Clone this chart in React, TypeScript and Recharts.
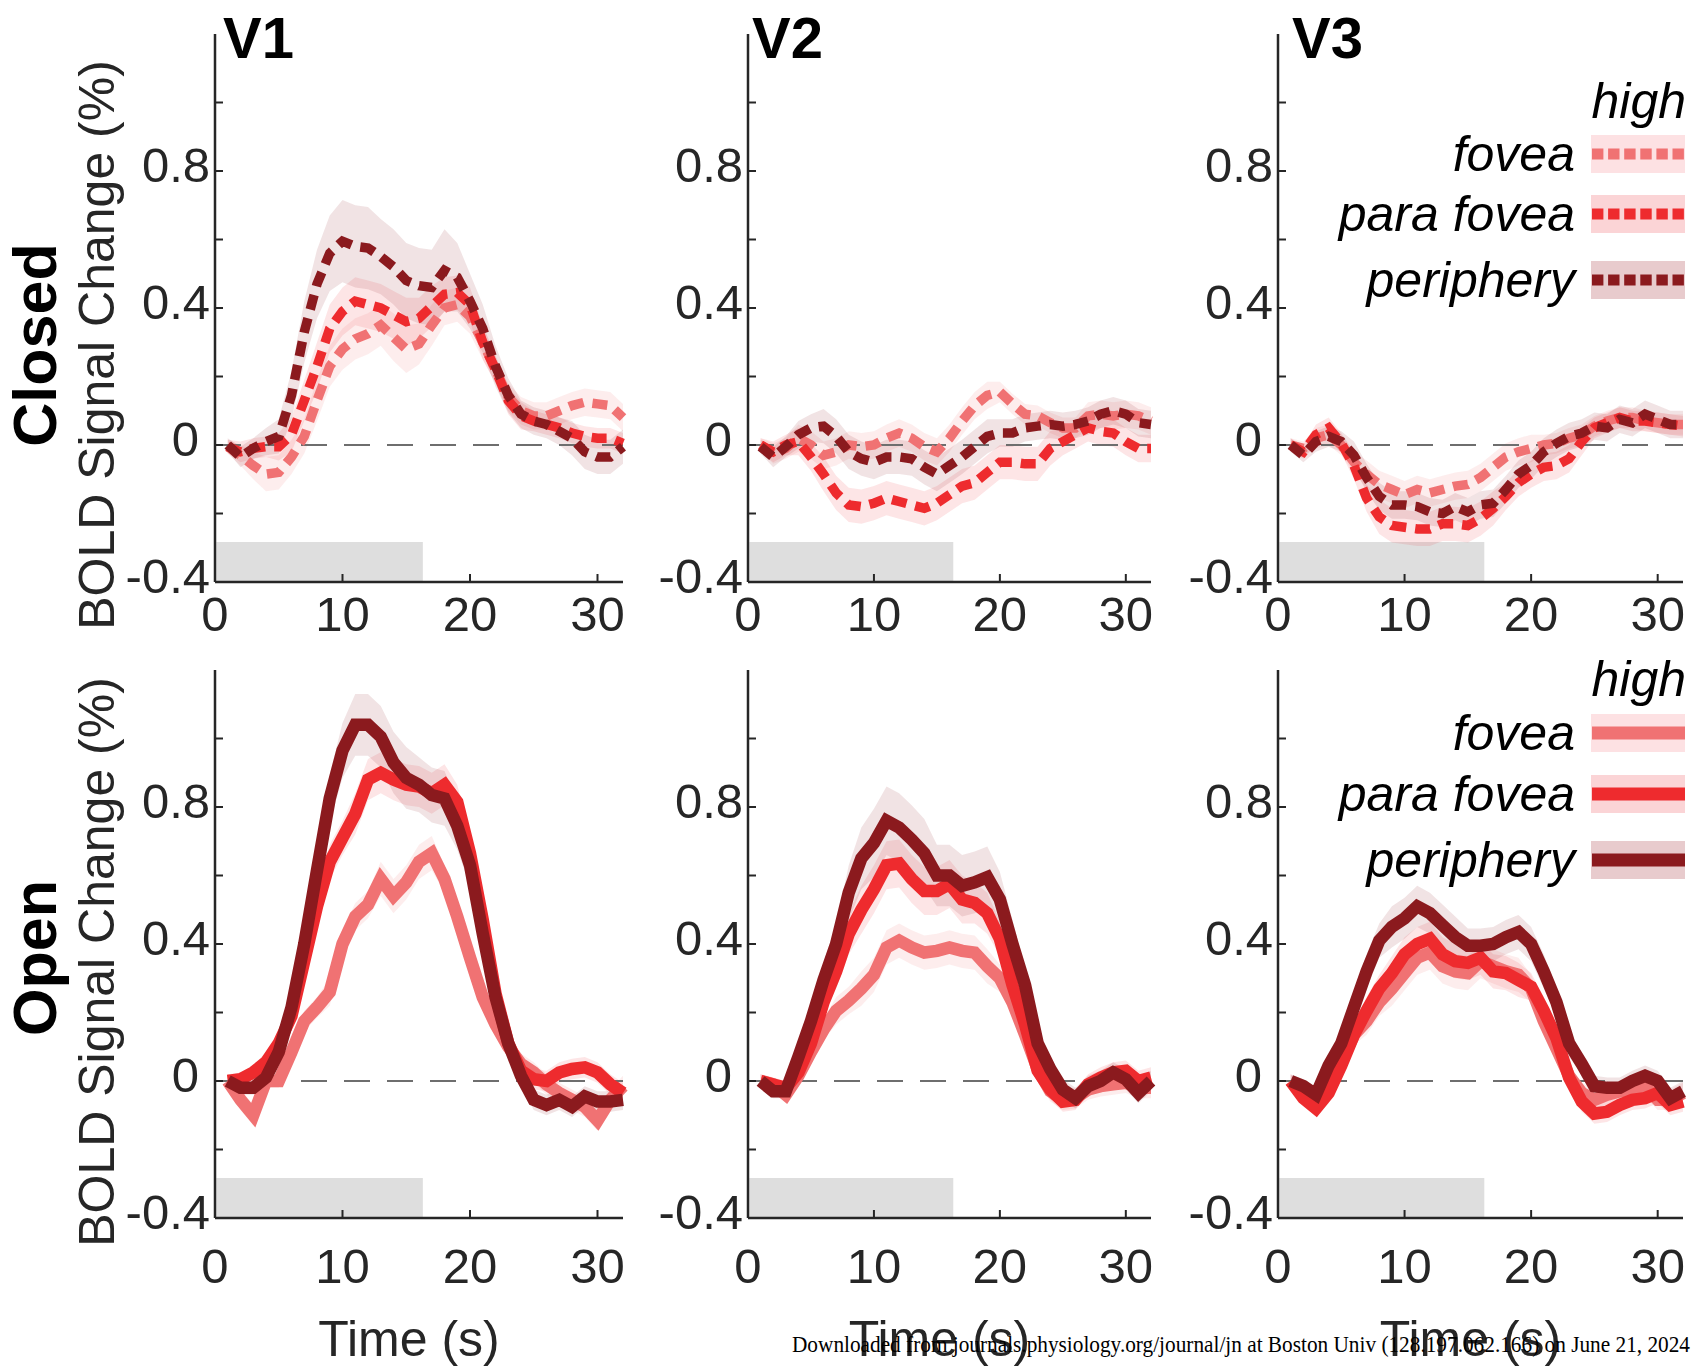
import React from 'react'
import { ComposedChart, Area, Line, XAxis, YAxis, ReferenceArea, ReferenceLine } from 'recharts'

// sample times (s)
const TIME = [1, 2, 3, 4, 5, 6, 7, 8, 9, 10, 11, 12, 13, 14, 15, 16, 17, 18, 19, 20, 21, 22, 23, 24, 25, 26, 27, 28, 29, 30, 31, 32]

const X_TICKS = [0, 10, 20, 30]
const Y_TICKS = [-0.4, -0.2, 0, 0.2, 0.4, 0.6, 0.8, 1.0]
const Y_TICK_LABELS = ['-0.4', '', '0', '', '0.4', '', '0.8', '']

// stimulus block (grey bar)
const STIM_ON = 0.1
const STIM_OFF = 16.3
const STIM_BAR_TOP = -0.283

const REGIONS = ['V1', 'V2', 'V3']
const LEGEND_LABELS = ['fovea', 'para fovea', 'periphery']

// ---- eyes closed ----
const V1C_FOVEA = [-0.005, -0.03, -0.06, -0.085, -0.08, -0.035, 0.025, 0.13, 0.23, 0.28, 0.31, 0.325, 0.35, 0.315, 0.28, 0.295, 0.35, 0.4, 0.41, 0.375, 0.3, 0.22, 0.14, 0.1, 0.085, 0.085, 0.1, 0.115, 0.125, 0.12, 0.115, 0.08]
const V1C_PARA = [-0.005, -0.02, -0.01, -0.005, -0.005, 0.03, 0.13, 0.23, 0.34, 0.39, 0.42, 0.41, 0.4, 0.38, 0.36, 0.37, 0.405, 0.44, 0.445, 0.41, 0.3, 0.22, 0.13, 0.085, 0.07, 0.06, 0.05, 0.035, 0.025, 0.02, 0.02, 0.005]
const V1C_PERIPH = [0, -0.035, -0.01, 0.01, 0.025, 0.145, 0.33, 0.47, 0.56, 0.595, 0.58, 0.575, 0.55, 0.52, 0.48, 0.465, 0.46, 0.51, 0.49, 0.42, 0.34, 0.23, 0.145, 0.09, 0.07, 0.06, 0.04, 0.02, -0.02, -0.035, -0.035, -0.005]
const V1C_FOVEA_SEM = [0.02, 0.03, 0.04, 0.05, 0.05, 0.05, 0.05, 0.06, 0.06, 0.06, 0.06, 0.06, 0.06, 0.07, 0.07, 0.06, 0.06, 0.05, 0.05, 0.05, 0.05, 0.04, 0.04, 0.04, 0.04, 0.04, 0.04, 0.04, 0.04, 0.04, 0.04, 0.04]
const V1C_PARA_SEM = [0.02, 0.03, 0.03, 0.03, 0.04, 0.05, 0.06, 0.07, 0.07, 0.07, 0.07, 0.07, 0.07, 0.07, 0.07, 0.06, 0.06, 0.05, 0.05, 0.05, 0.05, 0.04, 0.04, 0.04, 0.03, 0.03, 0.03, 0.03, 0.03, 0.03, 0.03, 0.03]
const V1C_PERIPH_SEM = [0.02, 0.03, 0.03, 0.04, 0.05, 0.07, 0.09, 0.1, 0.11, 0.12, 0.12, 0.12, 0.11, 0.11, 0.11, 0.11, 0.11, 0.12, 0.1, 0.08, 0.07, 0.06, 0.05, 0.04, 0.04, 0.04, 0.04, 0.05, 0.05, 0.05, 0.05, 0.05]

const V2C_FOVEA = [0, -0.025, -0.01, 0.02, 0, -0.03, -0.02, 0, -0.005, 0, 0.02, 0.035, 0.02, -0.005, -0.02, 0.02, 0.07, 0.115, 0.145, 0.155, 0.12, 0.09, 0.085, 0.065, 0.05, 0.05, 0.085, 0.09, 0.085, 0.09, 0.085, 0.07]
const V2C_PARA = [0, -0.02, 0, 0.01, -0.035, -0.085, -0.14, -0.175, -0.18, -0.17, -0.155, -0.165, -0.175, -0.185, -0.17, -0.145, -0.12, -0.11, -0.08, -0.05, -0.05, -0.055, -0.055, -0.01, 0.01, 0.03, 0.05, 0.04, 0.035, 0.01, -0.01, -0.01]
const V2C_PERIPH = [-0.005, -0.035, -0.005, 0.03, 0.05, 0.055, 0.025, -0.02, -0.04, -0.05, -0.035, -0.035, -0.04, -0.065, -0.085, -0.06, -0.035, -0.005, 0.025, 0.035, 0.035, 0.05, 0.055, 0.06, 0.055, 0.06, 0.07, 0.09, 0.1, 0.09, 0.065, 0.06]
const V2C_FOVEA_SEM = [0.02, 0.03, 0.03, 0.04, 0.04, 0.04, 0.04, 0.04, 0.04, 0.04, 0.04, 0.04, 0.04, 0.04, 0.04, 0.04, 0.04, 0.04, 0.04, 0.03, 0.03, 0.03, 0.03, 0.03, 0.03, 0.03, 0.04, 0.04, 0.04, 0.04, 0.04, 0.04]
const V2C_PARA_SEM = [0.02, 0.03, 0.03, 0.04, 0.04, 0.05, 0.05, 0.05, 0.05, 0.05, 0.05, 0.05, 0.05, 0.05, 0.05, 0.05, 0.05, 0.05, 0.05, 0.05, 0.05, 0.05, 0.05, 0.05, 0.04, 0.04, 0.04, 0.04, 0.04, 0.04, 0.04, 0.04]
const V2C_PERIPH_SEM = [0.02, 0.03, 0.03, 0.04, 0.04, 0.05, 0.05, 0.05, 0.05, 0.05, 0.05, 0.05, 0.05, 0.05, 0.05, 0.05, 0.05, 0.05, 0.05, 0.04, 0.04, 0.04, 0.04, 0.04, 0.04, 0.04, 0.04, 0.04, 0.04, 0.04, 0.04, 0.04]

const V3C_FOVEA = [0, -0.01, 0.02, 0.03, 0, -0.05, -0.085, -0.115, -0.13, -0.145, -0.13, -0.14, -0.13, -0.12, -0.115, -0.095, -0.065, -0.035, -0.02, -0.01, 0, 0.005, 0.02, 0.03, 0.055, 0.07, 0.08, 0.08, 0.07, 0.065, 0.06, 0.06]
const V3C_PARA = [0, -0.02, 0.03, 0.05, 0.005, -0.06, -0.155, -0.21, -0.235, -0.24, -0.245, -0.245, -0.23, -0.23, -0.235, -0.215, -0.185, -0.15, -0.11, -0.085, -0.065, -0.06, -0.04, 0.01, 0.05, 0.065, 0.08, 0.07, 0.07, 0.065, 0.06, 0.055]
const V3C_PERIPH = [0, -0.03, 0.01, 0.025, 0.01, -0.03, -0.095, -0.15, -0.175, -0.175, -0.18, -0.195, -0.2, -0.18, -0.195, -0.175, -0.17, -0.13, -0.085, -0.06, -0.02, 0.005, 0.025, 0.035, 0.055, 0.05, 0.075, 0.065, 0.09, 0.075, 0.06, 0.06]
const V3C_FOVEA_SEM = [0.02, 0.02, 0.03, 0.03, 0.03, 0.03, 0.04, 0.04, 0.04, 0.04, 0.04, 0.04, 0.04, 0.04, 0.04, 0.04, 0.04, 0.04, 0.04, 0.04, 0.03, 0.03, 0.03, 0.03, 0.03, 0.03, 0.03, 0.03, 0.03, 0.03, 0.03, 0.03]
const V3C_PARA_SEM = [0.02, 0.02, 0.03, 0.03, 0.03, 0.04, 0.04, 0.05, 0.05, 0.05, 0.05, 0.05, 0.05, 0.05, 0.05, 0.05, 0.05, 0.04, 0.04, 0.04, 0.04, 0.04, 0.04, 0.04, 0.03, 0.03, 0.03, 0.03, 0.03, 0.03, 0.03, 0.03]
const V3C_PERIPH_SEM = [0.02, 0.02, 0.03, 0.03, 0.03, 0.04, 0.04, 0.04, 0.04, 0.04, 0.04, 0.04, 0.04, 0.04, 0.04, 0.04, 0.04, 0.04, 0.04, 0.04, 0.04, 0.04, 0.04, 0.04, 0.04, 0.04, 0.04, 0.04, 0.04, 0.04, 0.04, 0.04]

// ---- eyes open ----
const V1O_FOVEA = [0, -0.055, -0.1, 0, 0, 0.085, 0.175, 0.215, 0.26, 0.4, 0.48, 0.515, 0.59, 0.54, 0.58, 0.64, 0.665, 0.59, 0.48, 0.36, 0.245, 0.165, 0.1, 0.05, 0.025, -0.01, -0.035, -0.055, -0.075, -0.115, -0.055, -0.015]
const V1O_PARA = [0, 0.005, 0.025, 0.055, 0.11, 0.19, 0.35, 0.51, 0.64, 0.71, 0.78, 0.88, 0.9, 0.88, 0.865, 0.86, 0.84, 0.865, 0.815, 0.665, 0.47, 0.255, 0.11, 0.03, 0.005, 0, 0.025, 0.035, 0.04, 0.025, -0.01, -0.035]
const V1O_PERIPH = [0, -0.02, -0.02, 0.01, 0.085, 0.215, 0.4, 0.615, 0.825, 0.965, 1.04, 1.04, 1.005, 0.93, 0.885, 0.865, 0.835, 0.825, 0.745, 0.63, 0.43, 0.245, 0.11, 0.015, -0.055, -0.07, -0.055, -0.075, -0.045, -0.06, -0.06, -0.055]
const V1O_FOVEA_SEM = [0.02, 0.03, 0.03, 0.02, 0.02, 0.03, 0.03, 0.03, 0.04, 0.04, 0.04, 0.04, 0.05, 0.05, 0.05, 0.05, 0.05, 0.04, 0.04, 0.04, 0.04, 0.03, 0.03, 0.03, 0.03, 0.03, 0.03, 0.03, 0.03, 0.03, 0.03, 0.03]
const V1O_PARA_SEM = [0.02, 0.02, 0.02, 0.03, 0.03, 0.04, 0.04, 0.05, 0.05, 0.05, 0.06, 0.06, 0.06, 0.06, 0.06, 0.06, 0.06, 0.06, 0.05, 0.05, 0.04, 0.04, 0.03, 0.03, 0.03, 0.03, 0.03, 0.03, 0.03, 0.03, 0.03, 0.03]
const V1O_PERIPH_SEM = [0.02, 0.02, 0.02, 0.03, 0.03, 0.04, 0.05, 0.06, 0.07, 0.08, 0.09, 0.09, 0.09, 0.09, 0.09, 0.08, 0.08, 0.08, 0.07, 0.06, 0.05, 0.04, 0.03, 0.03, 0.03, 0.03, 0.03, 0.03, 0.03, 0.03, 0.03, 0.03]

const V2O_FOVEA = [0, -0.01, -0.04, 0.015, 0.085, 0.15, 0.205, 0.235, 0.27, 0.31, 0.39, 0.41, 0.39, 0.375, 0.38, 0.39, 0.38, 0.375, 0.335, 0.3, 0.23, 0.135, 0.035, -0.03, -0.055, -0.05, -0.025, -0.015, -0.01, -0.005, -0.02, -0.02]
const V2O_PARA = [0, -0.01, -0.02, 0.025, 0.11, 0.23, 0.32, 0.43, 0.5, 0.56, 0.63, 0.635, 0.59, 0.555, 0.555, 0.575, 0.53, 0.52, 0.49, 0.415, 0.28, 0.165, 0.03, -0.025, -0.06, -0.055, -0.01, 0.01, 0.025, 0.03, 0, 0.01]
const V2O_PERIPH = [0, -0.03, -0.03, 0.07, 0.175, 0.295, 0.4, 0.55, 0.65, 0.695, 0.76, 0.74, 0.705, 0.665, 0.6, 0.6, 0.57, 0.58, 0.595, 0.53, 0.4, 0.28, 0.11, 0.035, -0.025, -0.05, -0.015, 0, 0.025, 0.005, -0.035, 0]
const V2O_FOVEA_SEM = [0.02, 0.02, 0.02, 0.02, 0.03, 0.03, 0.04, 0.04, 0.05, 0.05, 0.05, 0.05, 0.05, 0.05, 0.05, 0.05, 0.05, 0.05, 0.05, 0.04, 0.04, 0.03, 0.03, 0.03, 0.03, 0.03, 0.03, 0.03, 0.03, 0.03, 0.03, 0.03]
const V2O_PARA_SEM = [0.02, 0.02, 0.02, 0.03, 0.03, 0.04, 0.05, 0.06, 0.07, 0.07, 0.07, 0.07, 0.07, 0.07, 0.07, 0.07, 0.07, 0.06, 0.06, 0.05, 0.04, 0.04, 0.03, 0.03, 0.03, 0.03, 0.03, 0.03, 0.03, 0.03, 0.03, 0.03]
const V2O_PERIPH_SEM = [0.02, 0.02, 0.02, 0.03, 0.04, 0.05, 0.06, 0.08, 0.09, 0.1, 0.1, 0.1, 0.1, 0.1, 0.09, 0.09, 0.09, 0.09, 0.09, 0.08, 0.07, 0.05, 0.04, 0.03, 0.03, 0.03, 0.03, 0.03, 0.03, 0.03, 0.03, 0.03]

const V3O_FOVEA = [0, -0.04, -0.06, -0.02, 0.055, 0.135, 0.175, 0.23, 0.27, 0.315, 0.36, 0.375, 0.335, 0.32, 0.315, 0.35, 0.335, 0.32, 0.31, 0.27, 0.175, 0.095, 0.015, -0.035, -0.055, -0.04, -0.03, -0.025, -0.015, -0.055, -0.055, -0.035]
const V3O_PARA = [0, -0.05, -0.08, -0.035, 0.045, 0.135, 0.205, 0.27, 0.315, 0.37, 0.4, 0.415, 0.37, 0.35, 0.345, 0.36, 0.32, 0.315, 0.295, 0.275, 0.205, 0.125, 0.01, -0.06, -0.095, -0.09, -0.07, -0.055, -0.05, -0.035, -0.07, -0.06]
const V3O_PERIPH = [0, -0.015, -0.04, 0.045, 0.11, 0.215, 0.32, 0.41, 0.45, 0.475, 0.51, 0.49, 0.455, 0.42, 0.395, 0.395, 0.4, 0.42, 0.435, 0.4, 0.32, 0.23, 0.11, 0.05, -0.015, -0.02, -0.02, 0, 0.015, 0, -0.05, -0.03]
const V3O_FOVEA_SEM = [0.02, 0.02, 0.02, 0.03, 0.03, 0.03, 0.04, 0.04, 0.05, 0.05, 0.05, 0.05, 0.05, 0.05, 0.05, 0.05, 0.05, 0.05, 0.05, 0.04, 0.04, 0.03, 0.03, 0.03, 0.03, 0.03, 0.03, 0.03, 0.03, 0.03, 0.03, 0.03]
const V3O_PARA_SEM = [0.02, 0.02, 0.02, 0.03, 0.03, 0.03, 0.04, 0.04, 0.05, 0.05, 0.05, 0.05, 0.05, 0.05, 0.05, 0.05, 0.05, 0.05, 0.05, 0.04, 0.04, 0.03, 0.03, 0.03, 0.03, 0.03, 0.03, 0.03, 0.03, 0.03, 0.03, 0.03]
const V3O_PERIPH_SEM = [0.02, 0.02, 0.02, 0.03, 0.03, 0.04, 0.05, 0.05, 0.06, 0.06, 0.06, 0.06, 0.06, 0.06, 0.05, 0.05, 0.05, 0.05, 0.05, 0.05, 0.05, 0.04, 0.04, 0.03, 0.03, 0.03, 0.03, 0.03, 0.03, 0.03, 0.03, 0.03]

const COLORS = { fovea: '#F07273', para: '#EE2B2E', periph: '#8B1A1E' }
const LEGEND_FILLS = ['#FDE1E3', '#FBD4D6', '#E8CBCD']
const LINE_COLORS = [COLORS.fovea, COLORS.para, COLORS.periph]
const INK = '#262626'
const FONT = "'Liberation Sans', Arial, Helvetica, sans-serif"

const PLOT_H = 548
const Y_AXIS_W = 120
const M_TOP = 10
const M_RIGHT = 12

type Trio = { fovea: number[]; para: number[]; periph: number[]; foveaSem: number[]; paraSem: number[]; periphSem: number[] }

const PANELS: { left: number; top: number; width: number; dashed: boolean; series: Trio }[] = [
  { left: 215, top: 34, width: 408, dashed: true, series: { fovea: V1C_FOVEA, para: V1C_PARA, periph: V1C_PERIPH, foveaSem: V1C_FOVEA_SEM, paraSem: V1C_PARA_SEM, periphSem: V1C_PERIPH_SEM } },
  { left: 748, top: 34, width: 403, dashed: true, series: { fovea: V2C_FOVEA, para: V2C_PARA, periph: V2C_PERIPH, foveaSem: V2C_FOVEA_SEM, paraSem: V2C_PARA_SEM, periphSem: V2C_PERIPH_SEM } },
  { left: 1278, top: 34, width: 405, dashed: true, series: { fovea: V3C_FOVEA, para: V3C_PARA, periph: V3C_PERIPH, foveaSem: V3C_FOVEA_SEM, paraSem: V3C_PARA_SEM, periphSem: V3C_PERIPH_SEM } },
  { left: 215, top: 670, width: 408, dashed: false, series: { fovea: V1O_FOVEA, para: V1O_PARA, periph: V1O_PERIPH, foveaSem: V1O_FOVEA_SEM, paraSem: V1O_PARA_SEM, periphSem: V1O_PERIPH_SEM } },
  { left: 748, top: 670, width: 403, dashed: false, series: { fovea: V2O_FOVEA, para: V2O_PARA, periph: V2O_PERIPH, foveaSem: V2O_FOVEA_SEM, paraSem: V2O_PARA_SEM, periphSem: V2O_PERIPH_SEM } },
  { left: 1278, top: 670, width: 405, dashed: false, series: { fovea: V3O_FOVEA, para: V3O_PARA, periph: V3O_PERIPH, foveaSem: V3O_FOVEA_SEM, paraSem: V3O_PARA_SEM, periphSem: V3O_PERIPH_SEM } },
]

function buildRows(s: Trio) {
  return TIME.map((t, i) => ({
    t,
    fovea: s.fovea[i],
    para: s.para[i],
    periph: s.periph[i],
    foveaBand: [s.fovea[i] - s.foveaSem[i], s.fovea[i] + s.foveaSem[i]],
    paraBand: [s.para[i] - s.paraSem[i], s.para[i] + s.paraSem[i]],
    periphBand: [s.periph[i] - s.periphSem[i], s.periph[i] + s.periphSem[i]],
  }))
}

function YTick(props: any) {
  const { x, y, payload } = props
  const label = Y_TICK_LABELS[Y_TICKS.indexOf(payload.value)]
  if (!label) return <g />
  const nudge = label === '0' ? 11 : 0
  return (
    <text x={x - nudge} y={y - 6} dy="0.355em" textAnchor="end" fontSize={49} fill={INK} fontFamily={FONT}>
      {label}
    </text>
  )
}

function Panel({ p }: { p: (typeof PANELS)[number] }) {
  const rows = buildRows(p.series)
  const bottomRow = !p.dashed
  const xH = bottomRow ? 170 : 70
  const w = Y_AXIS_W + p.width + M_RIGHT
  const h = M_TOP + PLOT_H + xH
  const lineW = p.dashed ? 9.5 : 12.5
  const dash = p.dashed ? '15 9' : undefined

  return (
    <div style={{ position: 'absolute', left: p.left - Y_AXIS_W, top: p.top - M_TOP }}>
      <ComposedChart width={w} height={h} data={rows} margin={{ top: M_TOP, right: M_RIGHT, left: 0, bottom: 0 }}>
        <XAxis
          type="number"
          dataKey="t"
          domain={[0, 32]}
          ticks={X_TICKS}
          interval={0}
          height={xH}
          axisLine={{ stroke: INK, strokeWidth: 2.5 }}
          tickLine={{ stroke: INK, strokeWidth: 2 }}
          tickSize={-8}
          tickMargin={bottomRow ? 38 : 22}
          tick={{ fontSize: 49, fill: INK }}
          label={
            bottomRow
              ? { value: 'Time (s)', position: 'insideBottom', offset: 32, dx: -10, fontSize: 50, fill: INK }
              : undefined
          }
        />
        <YAxis
          type="number"
          domain={[-0.4, 1.2]}
          ticks={Y_TICKS}
          interval={0}
          width={Y_AXIS_W}
          axisLine={{ stroke: INK, strokeWidth: 2.5 }}
          tickLine={{ stroke: INK, strokeWidth: 2 }}
          tickSize={-8}
          tickMargin={13}
          tick={<YTick />}
        />
        <ReferenceArea x1={STIM_ON} x2={STIM_OFF} y1={-0.4} y2={STIM_BAR_TOP} fill="#DEDEDE" fillOpacity={1} stroke="none" />
        <Area type="linear" dataKey="foveaBand" stroke="none" fill={COLORS.fovea} fillOpacity={0.13} dot={false} activeDot={false} isAnimationActive={false} />
        <Area type="linear" dataKey="paraBand" stroke="none" fill={COLORS.para} fillOpacity={0.12} dot={false} activeDot={false} isAnimationActive={false} />
        <Area type="linear" dataKey="periphBand" stroke="none" fill={COLORS.periph} fillOpacity={0.12} dot={false} activeDot={false} isAnimationActive={false} />
        <ReferenceLine y={0} stroke="#6E6E6E" strokeWidth={2} strokeDasharray="26 17" />
        <Line type="linear" dataKey="fovea" stroke={COLORS.fovea} strokeWidth={lineW} strokeDasharray={dash} dot={false} activeDot={false} isAnimationActive={false} />
        <Line type="linear" dataKey="para" stroke={COLORS.para} strokeWidth={lineW} strokeDasharray={dash} dot={false} activeDot={false} isAnimationActive={false} />
        <Line type="linear" dataKey="periph" stroke={COLORS.periph} strokeWidth={lineW} strokeDasharray={dash} dot={false} activeDot={false} isAnimationActive={false} />
      </ComposedChart>
    </div>
  )
}

function LegendBlock({ highY, rowYs, dashed }: { highY: number; rowYs: number[]; dashed: boolean }) {
  const boxX = 1591
  const boxW = 94
  const boxH = 38
  return (
    <g fontFamily={FONT} fontStyle="italic" fontSize={50} fill="#000">
      <text x={1686} y={highY} textAnchor="end">high</text>
      {LEGEND_LABELS.map((lab, i) => (
        <g key={lab}>
          <text x={1575} y={rowYs[i] + 17} textAnchor="end">{lab}</text>
          <rect x={boxX} y={rowYs[i] - boxH / 2} width={boxW} height={boxH} fill={LEGEND_FILLS[i]} />
          <line
            x1={boxX + 1}
            x2={boxX + boxW}
            y1={rowYs[i]}
            y2={rowYs[i]}
            stroke={LINE_COLORS[i]}
            strokeWidth={dashed ? 11 : 13}
            strokeDasharray={dashed ? '11.4 4.7' : undefined}
          />
        </g>
      ))}
    </g>
  )
}

export default function App() {
  return (
    <div style={{ position: 'absolute', left: 0, top: 0, width: 1694, height: 1366, background: '#fff', overflow: 'hidden', fontFamily: FONT }}>
      {PANELS.map((p, i) => (
        <Panel key={i} p={p} />
      ))}
      <svg width={1694} height={1366} style={{ position: 'absolute', left: 0, top: 0, pointerEvents: 'none' }}>
        {/* region titles */}
        <g fontFamily={FONT} fontWeight="bold" fontSize={58} fill="#000">
          <text x={223} y={58}>{REGIONS[0]}</text>
          <text x={752} y={58}>{REGIONS[1]}</text>
          <text x={1292} y={58}>{REGIONS[2]}</text>
        </g>
        {/* row labels */}
        <g fontFamily={FONT} fontWeight="bold" fontSize={61} fill="#000" textAnchor="middle">
          <text transform="translate(56,345) rotate(-90)">Closed</text>
          <text transform="translate(56,958) rotate(-90)">Open</text>
        </g>
        <g fontFamily={FONT} fontSize={50} fill={INK} textAnchor="middle">
          <text transform="translate(114,345) rotate(-90)">BOLD Signal Change (%)</text>
          <text transform="translate(114,962) rotate(-90)">BOLD Signal Change (%)</text>
        </g>
        <LegendBlock highY={118} rowYs={[154, 214, 280]} dashed />
        <LegendBlock highY={696} rowYs={[733, 794, 860]} dashed={false} />
        <text
          x={792}
          y={1352}
          fontFamily="'Liberation Serif', 'Times New Roman', serif"
          fontSize={23}
          textLength={898}
          lengthAdjust="spacingAndGlyphs"
          fill="#000"
        >
          Downloaded from journals.physiology.org/journal/jn at Boston Univ (128.197.062.166) on June 21, 2024
        </text>
      </svg>
    </div>
  )
}
